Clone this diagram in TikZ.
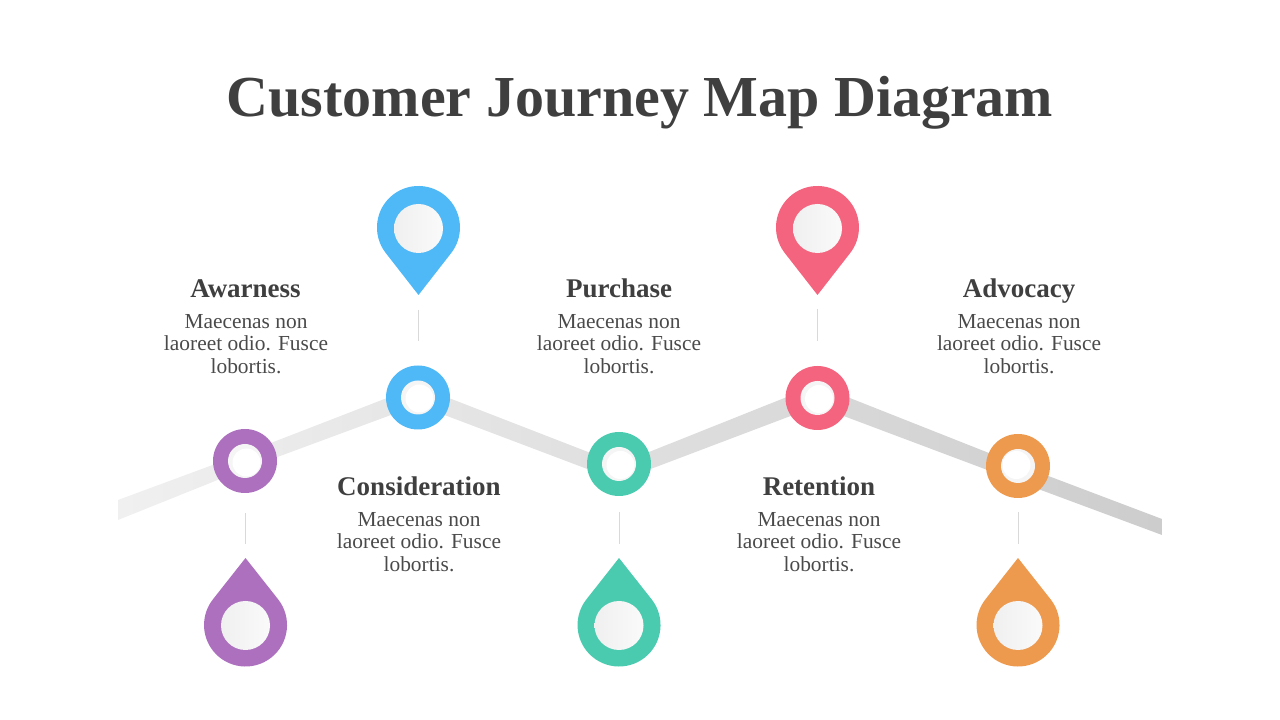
\documentclass[tikz,border=0pt]{standalone}
\usepackage{fontspec}
\setmainfont{Liberation Serif}
\definecolor{Ink}{RGB}{63,63,63}
\definecolor{Body}{RGB}{74,74,74}
\definecolor{Tick}{RGB}{217,217,217}
\definecolor{Bandl}{RGB}{240,240,240}
\definecolor{Bandr}{RGB}{205,205,205}
\definecolor{Pblue}{RGB}{79,184,246}
\definecolor{Ppink}{RGB}{245,100,127}
\definecolor{Ppurple}{RGB}{173,112,191}
\definecolor{Pteal}{RGB}{74,203,176}
\definecolor{Porange}{RGB}{237,153,78}
\tikzset{
  ring/.style={circle,minimum size=64pt,inner sep=0pt},
  hole/.style={circle,fill=black!4,minimum size=34pt,inner sep=0pt},
  glint/.style={circle,fill=white,minimum size=28pt,inner sep=0pt},
  disc/.style={circle,left color=black!6,right color=black!2,minimum size=49pt,inner sep=0pt},
  tick/.style={draw=Tick,line width=0.9pt},
  head/.style={text=Ink,font=\bfseries\fontsize{27}{29}\selectfont,anchor=base},
  blurb/.style={text=Body,align=center,font=\fontsize{21.4}{22.5}\selectfont}
}
\begin{document}
\begin{tikzpicture}[x=1pt,y=1pt]
\path[use as bounding box] (0,0) rectangle (1280,720);
\node (title) [text=Ink,font=\bfseries\fontsize{58}{62}\selectfont,anchor=base] at (640,603) {Customer Journey Map Diagram};
% band
\path[left color=Bandl,right color=Bandr] (118,220) -- (245,267) -- (418,334) -- (619,256) -- (817,335) -- (1018,255.5) -- (1162,201) -- (1162,185) -- (1018,238.5) -- (817,314) -- (619,239) -- (418,315) -- (245,251) -- (118,200) -- cycle;
% rings
\node (ringA) [ring,fill=Ppurple] at (245,259) {};
\node [hole] at (245,259) {};
\node [glint] at (246.5,257.5) {};
\node (ringC) [ring,fill=Pblue] at (418,322.5) {};
\node [hole] at (418,322.5) {};
\node [glint] at (419.5,321.5) {};
\node (ringP) [ring,fill=Pteal] at (619,256) {};
\node [hole] at (619,256) {};
\node [glint] at (620.5,255) {};
\node (ringR) [ring,fill=Ppink] at (817.5,322) {};
\node [hole] at (817.5,322) {};
\node [glint] at (819,321) {};
\node (ringV) [ring,fill=Porange] at (1018,254) {};
\node [hole] at (1018,254) {};
\node [glint] at (1016.5,255) {};
% pins
\fill[Pblue] (418.5,425) -- (385.6,467.2) arc[start angle=217.6,end angle=-37.6,radius=41.5pt] -- cycle;
\node (discC) [disc] at (418.5,491.5) {};
\fill[Ppink] (817.5,425) -- (784.6,467.2) arc[start angle=217.6,end angle=-37.6,radius=41.5pt] -- cycle;
\node (discR) [disc] at (817.5,491.5) {};
\fill[Ppurple] (245.5,162) -- (278.1,120.7) arc[start angle=38.3,end angle=-218.3,radius=41.5pt] -- cycle;
\node (discA) [disc] at (245.5,94.5) {};
\fill[Pteal] (619,162) -- (651.6,120.7) arc[start angle=38.3,end angle=-218.3,radius=41.5pt] -- cycle;
\node (discP) [disc] at (619,94.5) {};
\fill[Porange] (1018,162) -- (1050.6,120.7) arc[start angle=38.3,end angle=-218.3,radius=41.5pt] -- cycle;
\node (discV) [disc] at (1018,94.5) {};
% ticks
\coordinate (tickCa) at (418.5,410);
\coordinate (tickCb) at (418.5,379);
\draw[tick] (tickCa) -- (tickCb);
\coordinate (tickRa) at (817.5,411);
\coordinate (tickRb) at (817.5,379);
\draw[tick] (tickRa) -- (tickRb);
\coordinate (tickAa) at (245.5,207);
\coordinate (tickAb) at (245.5,176);
\draw[tick] (tickAa) -- (tickAb);
\coordinate (tickPa) at (619,208);
\coordinate (tickPb) at (619,176);
\draw[tick] (tickPa) -- (tickPb);
\coordinate (tickVa) at (1018.5,208);
\coordinate (tickVb) at (1018.5,176);
\draw[tick] (tickVa) -- (tickVb);
% labels
\node (headA) [head] at (245.5,422) {Awarness};
\node (textA) [blurb] at (246,376) {Maecenas non\\laoreet odio. Fusce\\lobortis.};
\node (headC) [head] at (419,224) {Consideration};
\node (textC) [blurb] at (419,178) {Maecenas non\\laoreet odio. Fusce\\lobortis.};
\node (headP) [head] at (619,422) {Purchase};
\node (textP) [blurb] at (619,376) {Maecenas non\\laoreet odio. Fusce\\lobortis.};
\node (headR) [head] at (819,224) {Retention};
\node (textR) [blurb] at (819,178) {Maecenas non\\laoreet odio. Fusce\\lobortis.};
\node (headV) [head] at (1019,422) {Advocacy};
\node (textV) [blurb] at (1019,376) {Maecenas non\\laoreet odio. Fusce\\lobortis.};
\end{tikzpicture}
\end{document}
